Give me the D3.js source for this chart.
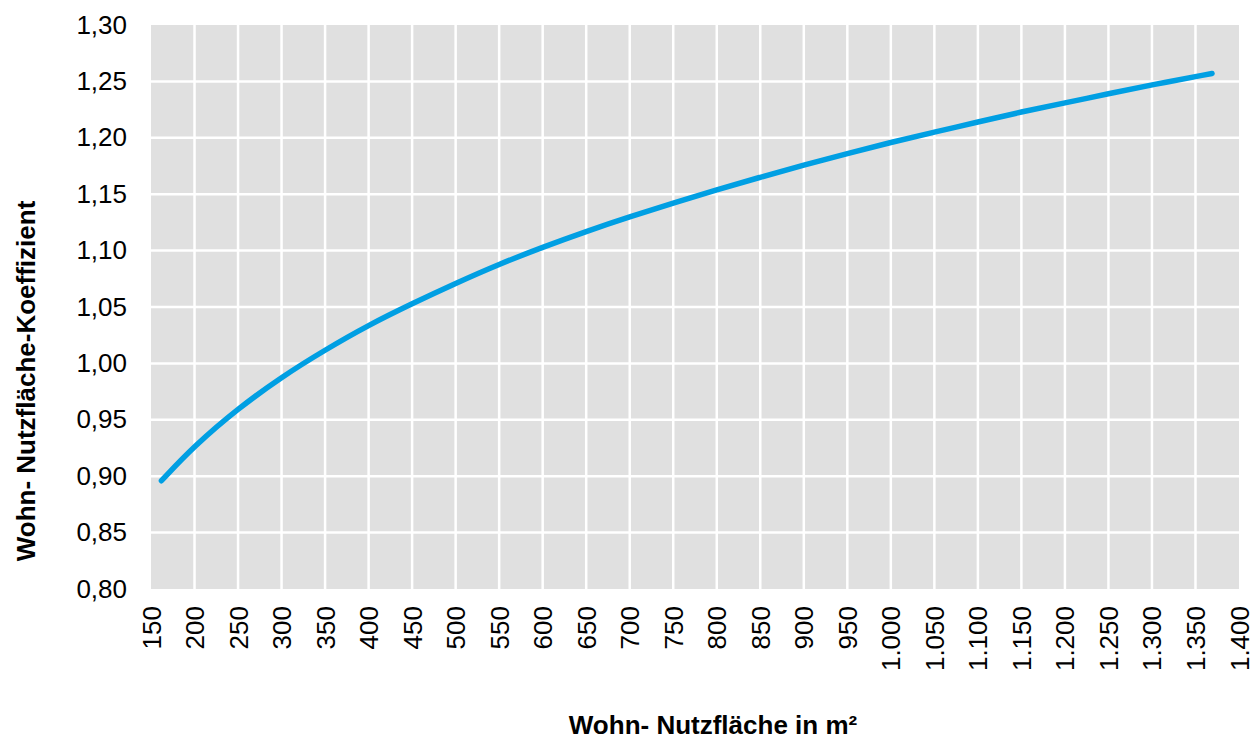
<!DOCTYPE html>
<html><head><meta charset="utf-8">
<script src="https://cdn.jsdelivr.net/npm/d3@7"></script>
<style>body{margin:0;background:#fff;font-family:"Liberation Sans",Arial,sans-serif;}</style>
</head><body><svg id="c" width="1254" height="740"></svg>
<script>
const areas = [162,200,250,300,350,400,450,500,550,600,650,700,750,800,850,900,950,1000,1050,1100,1150,1200,1250,1300,1369];
const coeffs = [0.896,0.927,0.960,0.988,1.012,1.034,1.053,1.071,1.088,1.103,1.117,1.130,1.142,1.154,1.165,1.176,1.186,1.196,1.205,1.214,1.223,1.231,1.239,1.247,1.257];
const xTicks = [150,200,250,300,350,400,450,500,550,600,650,700,750,800,850,900,950,1000,1050,1100,1150,1200,1250,1300,1350,1400];
const yTicks = [0.80,0.85,0.90,0.95,1.00,1.05,1.10,1.15,1.20,1.25,1.30];
const xTitle = "Wohn- Nutzfläche in m²";
const yTitle = "Wohn- Nutzfläche-Koeffizient";

const loc = d3.formatLocale({decimal:",",thousands:".",grouping:[3],currency:["","€"]});
const fx = loc.format(",d"), fy = loc.format(".2f");
const L=151,R=1239,T=25,B=589;
const x=d3.scaleLinear().domain([150,1400]).range([L,R]);
const y=d3.scaleLinear().domain([0.80,1.30]).range([B,T]);
const svg=d3.select("#c");
svg.append("rect").attr("x",L).attr("y",T).attr("width",R-L).attr("height",B-T).attr("fill","#e0e0e0");
const g=svg.append("g");
g.selectAll(".vx").data(xTicks.slice(1,-1)).enter().append("line")
 .attr("x1",d=>x(d)).attr("x2",d=>x(d)).attr("y1",T).attr("y2",B).attr("stroke","#fff").attr("stroke-width",2.5);
g.selectAll(".hy").data(yTicks.slice(1,-1)).enter().append("line")
 .attr("x1",L).attr("x2",R).attr("y1",d=>y(d)).attr("y2",d=>y(d)).attr("stroke","#fff").attr("stroke-width",2.5);
svg.selectAll(".yl").data(yTicks).enter().append("text")
 .attr("x",127).attr("y",d=>y(d)+8.5).attr("text-anchor","end").attr("font-size",26).attr("fill","#000").text(d=>fy(d));
svg.selectAll(".xl").data(xTicks).enter().append("text")
 .attr("transform",d=>`translate(${x(d)+9.5},606) rotate(-90)`).attr("text-anchor","end").attr("font-size",26).attr("fill","#000").text(d=>fx(d));
const line=d3.line().x((d,i)=>x(areas[i])).y(d=>y(d)).curve(d3.curveBasis);
svg.append("path").datum(coeffs).attr("d",line).attr("fill","none").attr("stroke","#009fe3").attr("stroke-width",5.5).attr("stroke-linecap","round");
svg.append("text").attr("x",713).attr("y",734).attr("text-anchor","middle").attr("font-size",26).attr("font-weight","bold").text(xTitle);
svg.append("text").attr("transform","translate(35,381) rotate(-90)").attr("text-anchor","middle").attr("font-size",26).attr("font-weight","bold").text(yTitle);
</script></body></html>
